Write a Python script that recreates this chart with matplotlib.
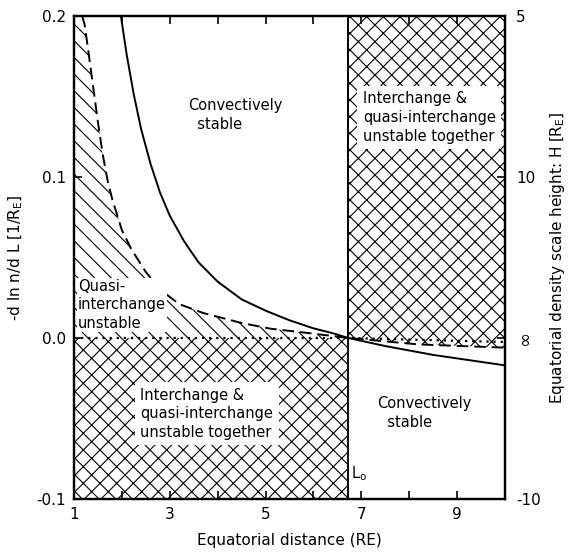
import numpy as np
import matplotlib
matplotlib.use("Agg")
import matplotlib.pyplot as plt

# ---- data ----
L_solid = [1.98, 2.10, 2.25, 2.40, 2.60, 2.80, 3.00, 3.30, 3.60, 4.00, 4.50, 5.00, 5.50, 6.00, 6.40, 6.73, 7.50, 8.50, 10.0]
y_solid = [0.200, 0.176, 0.151, 0.130, 0.108, 0.090, 0.076, 0.060, 0.047, 0.035, 0.024, 0.017, 0.011, 0.006, 0.003, 0.0, -0.005, -0.0105, -0.017]

L_dash = [1.17, 1.22, 1.30, 1.40, 1.50, 1.60, 1.70, 1.80, 2.00, 2.20, 2.50, 2.80, 3.20, 3.70, 4.50, 5.10, 6.00, 6.73, 8.20, 10.0]
y_dash = [0.200, 0.195, 0.178, 0.156, 0.134, 0.114, 0.098, 0.086, 0.067, 0.055, 0.041, 0.030, 0.021, 0.0155, 0.0093, 0.0058, 0.0027, 0.0, -0.004, -0.006]

L_dot = [1.0, 6.73, 10.0]
y_dot = [0.0, 0.0, -0.0025]

L0 = 6.73
H_ticks = [5, 10, np.inf, -10]
H_labels = ["5", "10", "\u221e", "-10"]
x_ticks = [1, 2, 3, 4, 5, 6, 7, 8, 9, 10]
x_labels = ["1", "", "3", "", "5", "", "7", "", "9", ""]
y_ticks = [-0.1, 0.0, 0.1, 0.2]
y_labels = ["-0.1", "0.0", "0.1", "0.2"]

plt.rcParams['font.family'] = ['DejaVu Sans']
plt.rcParams['hatch.linewidth'] = 0.8

fig = plt.figure(figsize=(5.71, 5.55), dpi=100)
ax = fig.add_axes([74/571, 1-499/555, (505-74)/571, (499-16)/555])
ax.set_xlim(1, 10)
ax.set_ylim(-0.1, 0.2)

# hatched regions
ax.fill_between([1, L0], [-0.1, -0.1], [0.0, 0.0], facecolor='none',
                edgecolor='black', hatch='xx', linewidth=0)
dx = np.array(L_dash)
dy = np.array(y_dash)
m = dx >= L0
ax.fill_between(np.r_[L0, dx[m]], np.r_[0.0, dy[m]], 0.2, facecolor='none',
                edgecolor='black', hatch='xx', linewidth=0)
m2 = dx <= L0
ax.fill_between(np.r_[1.0, dx[m2]], 0.0, np.r_[0.2, dy[m2]], facecolor='none',
                edgecolor='black', hatch='\\\\', linewidth=0)

# curves
ax.plot(L_solid, y_solid, color='black', lw=1.4)
ax.plot(L_dash, y_dash, color='black', lw=1.4, dashes=(6, 3))
ax.plot(L_dot, y_dot, color='black', lw=1.6, linestyle=(0, (1, 2.2)))
ax.axvline(L0, color='black', lw=1.4)

fs = 10.5
ax.text(3.38, 0.1385, "Convectively\n  stable", ha='left', va='center', fontsize=fs, linespacing=1.35)
ax.text(7.34, -0.0466, "Convectively\n  stable", ha='left', va='center', fontsize=fs, linespacing=1.35)
box = dict(facecolor='white', edgecolor='none', pad=4)
ax.text(7.03, 0.137, "Interchange &\nquasi-interchange\nunstable together", ha='left', va='center',
        fontsize=fs, linespacing=1.3, bbox=box)
ax.text(2.38, -0.047, "Interchange &\nquasi-interchange\nunstable together", ha='left', va='center',
        fontsize=fs, linespacing=1.3, bbox=box)
ax.text(1.08, 0.0205, "Quasi-\ninterchange\nunstable", ha='left', va='center', fontsize=fs,
        linespacing=1.3, bbox=dict(facecolor='white', edgecolor='none', pad=0.5))
ax.text(6.78, -0.084, "L$_\\mathregular{o}$", ha='left', va='center', fontsize=fs)

ax.set_xticks(x_ticks)
ax.set_xticklabels(x_labels)
ax.set_yticks(y_ticks)
ax.set_yticklabels(y_labels)
ax.tick_params(direction='in', length=6, width=1.2, labelsize=11, top=True, pad=6)
ax.set_xlabel("Equatorial distance (RE)", fontsize=11, labelpad=8)
ax.set_ylabel("-d ln n/d L [1/R$_\\mathregular{E}$]", fontsize=11, labelpad=8)
for s in ax.spines.values():
    s.set_linewidth(1.6)

ax2 = ax.twinx()
ax2.set_ylim(-0.1, 0.2)
pos = [0.0 if np.isinf(h) else 1.0 / h for h in H_ticks]
ax2.set_yticks(pos)
ax2.set_yticklabels(H_labels)
ax2.tick_params(direction='in', length=6, width=1.2, labelsize=11, pad=8)
for lab in ax2.get_yticklabels():
    if lab.get_text() == "\u221e":
        lab.set_rotation(90)
        lab.set_fontsize(13)
ax2.set_ylabel("Equatorial density scale height: H [R$_\\mathregular{E}$]", fontsize=11, labelpad=5)
for s in ax2.spines.values():
    s.set_linewidth(1.6)

fig.savefig("out.png", dpi=100, facecolor='white')
